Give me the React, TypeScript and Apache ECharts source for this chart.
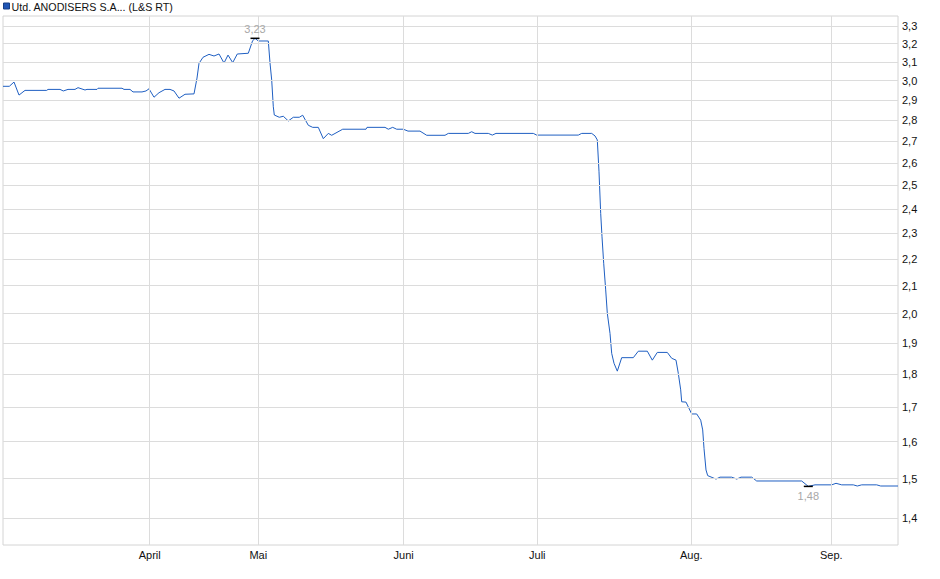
import React, { useEffect, useRef } from "react";
import * as echarts from "echarts";

const seriesName = "Utd. ANODISERS S.A... (L&S RT)";

// x position in trading-day units (0 = first day shown)
const days = [
  0, 1.26, 2.2, 3.2, 4.4, 8.74, 9, 11.4, 12.06, 13, 14.4, 15, 16.4, 16.8, 18.8, 19, 23.8, 24.2, 25.4, 26,
  27.8, 28.6, 29.2, 30.2, 31.2, 32.4, 33.4, 34.2, 35.2, 36.4, 38.2, 38.8, 39.2, 40, 41.2, 42.2, 43.2, 44.2, 45, 45.94,
  46.86, 49.06, 49.9, 50.4, 51.06, 53.06, 53.4, 53.74, 54.06, 54.26, 55.26, 56.06, 57.06, 58.06, 59.26, 59.94, 61.06, 61.94, 63.06, 64.06,
  65.06, 65.74, 67.94, 72.6, 72.8, 76.4, 77.06, 77.94, 78.74, 80.06, 81, 83.4, 84.74, 88.4, 89.06, 93.06, 93.74, 94.4, 97.06, 97.86,
  98.6, 106.06, 106.74, 115.06, 115.74, 117.74, 118.4, 118.86, 119.2, 119.54, 119.8, 120.14, 120.54, 120.86, 121.4, 121.74, 122.2, 122.86, 123.74, 126.06,
  127.06, 128.86, 129.86, 130.86, 132.86, 133.74, 134.6, 135.06, 135.54, 135.74, 136.6, 137.74, 138.74, 139.54, 139.94, 140.2, 140.6, 140.94, 142.6, 143.4,
  145.74, 146.74, 147.6, 149.74, 150.74, 159.74, 161.06, 162.4, 165.74, 166.6, 167.74, 170.06, 170.86, 171.74, 174.74, 175.54, 179,
];

const prices = [
  2.971, 2.971, 2.993, 2.926, 2.95, 2.95, 2.955, 2.955, 2.947, 2.955, 2.955, 2.964, 2.952, 2.955, 2.955, 2.961, 2.961, 2.955, 2.955, 2.942,
  2.942, 2.947, 2.958, 2.915, 2.938, 2.955, 2.955, 2.947, 2.91, 2.93, 2.932, 3.014, 3.092, 3.125, 3.141, 3.132, 3.143, 3.094, 3.137, 3.096,
  3.143, 3.147, 3.215, 3.23, 3.215, 3.215, 3.094, 3.004, 2.867, 2.826, 2.815, 2.82, 2.797, 2.815, 2.815, 2.825, 2.776, 2.766, 2.766, 2.712,
  2.737, 2.728, 2.757, 2.757, 2.766, 2.766, 2.757, 2.766, 2.757, 2.757, 2.748, 2.748, 2.728, 2.728, 2.737, 2.737, 2.745, 2.737, 2.737, 2.729,
  2.737, 2.737, 2.729, 2.729, 2.737, 2.737, 2.725, 2.706, 2.56, 2.381, 2.286, 2.183, 2.084, 2.001, 1.932, 1.866, 1.834, 1.809, 1.852, 1.852,
  1.873, 1.873, 1.844, 1.869, 1.869, 1.85, 1.844, 1.802, 1.751, 1.715, 1.714, 1.679, 1.679, 1.661, 1.633, 1.581, 1.523, 1.508, 1.499, 1.504,
  1.504, 1.499, 1.504, 1.504, 1.494, 1.494, 1.48, 1.484, 1.484, 1.488, 1.484, 1.484, 1.481, 1.484, 1.484, 1.481, 1.481,
];

const monthPositions = [29.34, 51.06, 80.14, 106.86, 137.66, 165.66];
const monthLabels = ["April", "Mai", "Juni", "Juli", "Aug.", "Sep."];

const yTicks = [1.4, 1.5, 1.6, 1.7, 1.8, 1.9, 2.0, 2.1, 2.2, 2.3, 2.4, 2.5, 2.6, 2.7, 2.8, 2.9, 3.0, 3.1, 3.2, 3.3];

const FONT = "Liberation Sans, Arial, sans-serif";
const GRID_COLOR = "#dcdcdc";

function fmt(v: number, digits: number) {
  return v.toFixed(digits).replace(".", ",");
}

export default function App() {
  const ref = useRef<HTMLDivElement>(null);

  useEffect(() => {
    if (!ref.current) return;
    const chart = echarts.init(ref.current, undefined, { renderer: "svg" });

    const gridLineData: any[] = [
      ...yTicks.map((v) => ({ yAxis: v })),
      ...monthPositions.map((p) => ({ xAxis: p })),
    ];

    chart.setOption({
      animation: false,
      textStyle: { fontFamily: FONT },
      grid: {
        left: 3,
        right: 42,
        top: 16,
        bottom: 34,
        show: true,
        borderColor: "#d4d4d4",
        borderWidth: 1,
      },
      graphic: [
        {
          type: "rect",
          shape: { x: 3.5, y: 3, width: 6, height: 6 },
          style: { fill: "#1f55b5", stroke: "#173f86", lineWidth: 1 },
        },
        {
          type: "text",
          style: {
            text: seriesName,
            x: 11.5,
            y: 6.5,
            verticalAlign: "middle",
            fill: "#111",
            font: `10.7px ${FONT}`,
          },
        },
      ],
      xAxis: {
        type: "value",
        min: 0,
        max: 179,
        axisLine: { show: false },
        axisTick: { show: false },
        splitLine: { show: false },
        axisLabel: {
          customValues: monthPositions,
          fontSize: 11,
          color: "#111",
          margin: 4,
          formatter: (v: number) => {
            let best = 0;
            monthPositions.forEach((p, i) => {
              if (Math.abs(p - v) < Math.abs(monthPositions[best] - v)) best = i;
            });
            return monthLabels[best];
          },
        },
      },
      yAxis: {
        type: "log",
        position: "right",
        min: 1.3364,
        max: 3.358,
        axisLine: { show: false },
        axisTick: { show: false },
        splitLine: { show: false },
        axisLabel: {
          customValues: yTicks,
          fontSize: 11,
          color: "#111",
          margin: 4,
          formatter: (v: number) => fmt(v, 1),
        },
      },
      series: [
        {
          type: "line",
          data: [],
          z: 1,
          silent: true,
          markLine: {
            silent: true,
            symbol: ["none", "none"],
            label: { show: false },
            lineStyle: { color: GRID_COLOR, type: "solid", width: 1 },
            emphasis: { disabled: true },
            data: gridLineData,
          },
        },
        {
          name: seriesName,
          type: "line",
          z: 3,
          data: days.map((d, i) => [d, prices[i]]),
          showSymbol: false,
          symbol: "none",
          lineStyle: { color: "#1f5fc2", width: 1 },
          itemStyle: { color: "#1f5fc2" },
          markPoint: {
            symbol: "rect",
            symbolSize: [9, 1.5],
            itemStyle: { color: "#000" },
            label: {
              show: true,
              color: "#a8a8a8",
              fontSize: 11,
              formatter: (p: any) => fmt(Number(p.value), 2),
            },
            data: [
              { type: "max", valueDim: "y", label: { position: "top", distance: 3 } },
              { type: "min", valueDim: "y", label: { position: "bottom", distance: 3 } },
            ],
          },
        },
      ],
    });

    return () => chart.dispose();
  }, []);

  return (
    <div
      ref={ref}
      style={{ position: "absolute", left: 0, top: 0, width: 940, height: 579, background: "#fff" }}
    />
  );
}
